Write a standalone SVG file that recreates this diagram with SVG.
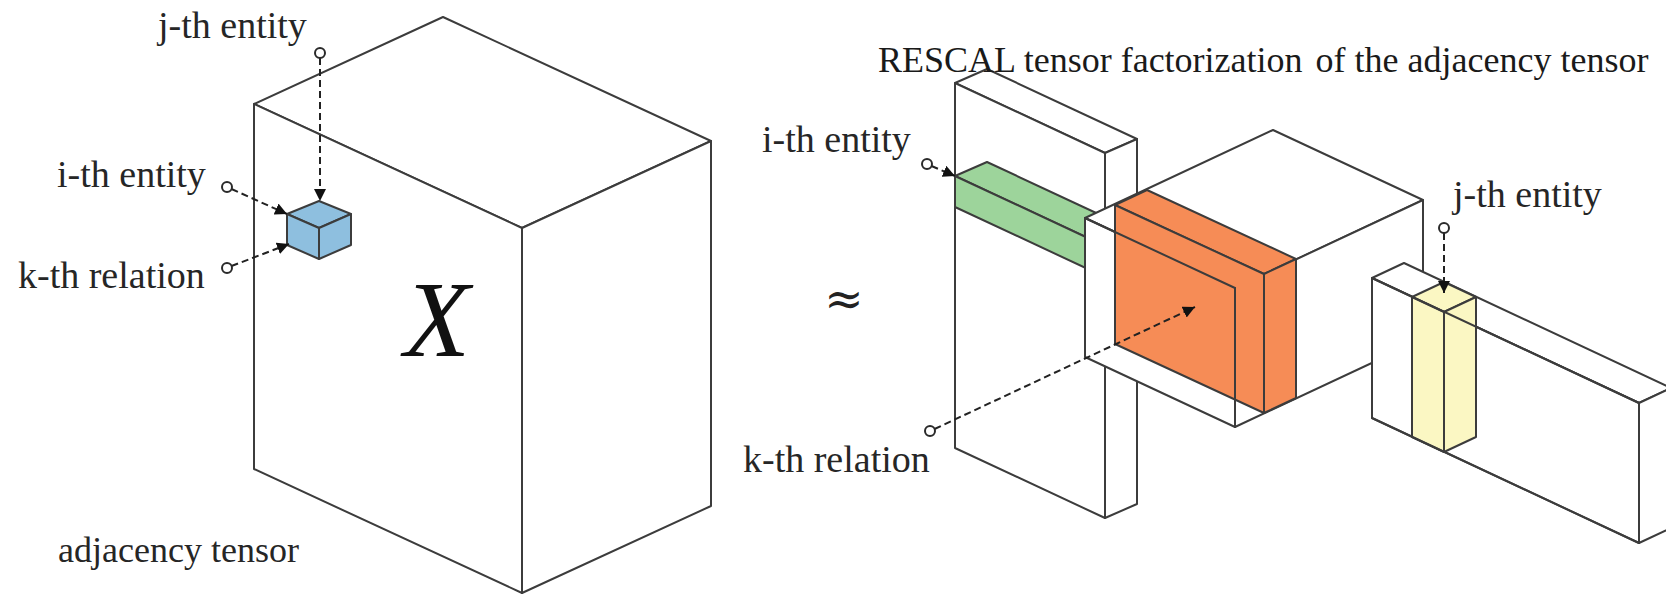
<svg xmlns="http://www.w3.org/2000/svg" width="1666" height="594" viewBox="0 0 1666 594">
  <defs>
    <style>
      .edge { fill: #ffffff; stroke: #3c3c3c; stroke-width: 2; stroke-linejoin: round; }
      .line { fill: none; stroke: #3c3c3c; stroke-width: 2; stroke-linecap: round; }
      .blue { fill: #8ebfdf; stroke: #3c3c3c; stroke-width: 2; stroke-linejoin: round; }
      .green { fill: #9dd49b; stroke: #3c3c3c; stroke-width: 2; stroke-linejoin: round; }
      .orange { fill: #f68c56; stroke: #3c3c3c; stroke-width: 2; stroke-linejoin: round; }
      .yellow { fill: #fbf7c3; stroke: #3c3c3c; stroke-width: 2; stroke-linejoin: round; }
      .dash { fill: none; stroke: #222222; stroke-width: 2; stroke-dasharray: 7 4; }
      .port { fill: #ffffff; stroke: #2a2a2a; stroke-width: 2; }
      text { font-family: "Liberation Serif", "Times New Roman", serif; }
      .lbl { font-size: 38px; fill: #262626; }
      .lbl-s { font-size: 36px; fill: #262626; }
      .title { font-size: 36px; fill: #1a1a1a; }
    </style>
    <marker id="head" viewBox="0 0 12 12" markerWidth="12" markerHeight="12" markerUnits="userSpaceOnUse" refX="12" refY="6" orient="auto">
      <path d="M0,0 L12,6 L0,12 z" fill="#111111"/>
    </marker>
  </defs>

  <!-- adjacency tensor X -->
  <g id="adjacency-tensor">
    <polygon class="edge" points="254,104 443,17 711,141 522,228"/>
    <polygon class="edge" points="254,104 522,228 522,593 254,469"/>
    <polygon class="edge" points="522,228 711,141 711,506 522,593"/>
    <text x="437" y="356" text-anchor="middle" font-style="italic" font-size="108" fill="#111111">X</text>
  </g>

  <!-- single entry of X -->
  <g id="entry-cell">
    <polygon class="blue" points="319,201 351,214 319,228 287,214"/>
    <polygon class="blue" points="287,214 319,228 319,259 287,245"/>
    <polygon class="blue" points="319,228 351,214 351,245 319,259"/>
  </g>

  <!-- approximation sign -->
  <g id="approx">
    <text x="844" y="315" text-anchor="middle" font-size="47" fill="#222222" style="font-family: 'DejaVu Serif', 'Liberation Serif', serif">≈</text>
  </g>

  <!-- factor matrix A with the i-th row -->
  <g id="factor-a">
    <polygon class="edge" points="955,83 987,69 1137,139 1105,153"/>
    <polygon class="edge" points="955,83 1105,153 1105,518 955,448"/>
    <polygon class="edge" points="1105,153 1137,139 1137,504 1105,518"/>
    <polygon class="green" points="955,176 987,162 1137,232 1105,246"/>
    <polygon class="green" points="955,176 1105,246 1105,277 955,207"/>
  </g>

  <!-- core tensor R with the k-th slice -->
  <g id="core-tensor">
    <polygon class="edge" points="1085,218 1273,130 1423,200 1235,288"/>
    <polygon class="edge" points="1085,218 1235,288 1235,427 1085,357"/>
    <polygon class="edge" points="1235,288 1423,200 1423,339 1235,427"/>
    <polygon class="orange" points="1115,205 1147,190 1296,259 1264,274"/>
    <polygon class="orange" points="1115,205 1264,274 1264,413 1115,344"/>
    <polygon class="orange" points="1264,274 1296,259 1296,398 1264,413"/>
    <line class="line" x1="1085" y1="218" x2="1235" y2="288"/>
    <line class="line" x1="1235" y1="288" x2="1235" y2="427"/>
  </g>

  <!-- transposed factor with the j-th column -->
  <g id="factor-at">
    <polygon class="edge" points="1372,278 1404,263 1671,388 1639,403"/>
    <polygon class="edge" points="1372,278 1639,403 1639,543 1372,418"/>
    <polygon class="edge" points="1639,403 1671,388 1671,528 1639,543"/>
    <polygon class="yellow" points="1412,297 1444,282 1476,297 1444,312"/>
    <polygon class="yellow" points="1412,297 1444,312 1444,452 1412,437"/>
    <polygon class="yellow" points="1444,312 1476,297 1476,437 1444,452"/>
    <line class="line" x1="1372" y1="278" x2="1639" y2="403"/>
    <line class="line" x1="1372" y1="418" x2="1639" y2="543"/>
  </g>

  <!-- pointers from labels -->
  <g id="connectors">
    <line class="dash" x1="320" y1="58" x2="320" y2="201" marker-end="url(#head)"/>
    <circle class="port" cx="320" cy="53" r="5"/>
    <line class="dash" x1="231.5" y1="189" x2="287" y2="214" marker-end="url(#head)"/>
    <circle class="port" cx="227" cy="187" r="5"/>
    <line class="dash" x1="231.5" y1="266" x2="289" y2="244" marker-end="url(#head)"/>
    <circle class="port" cx="227" cy="268" r="5"/>

    <line class="dash" x1="931.5" y1="166" x2="955" y2="176" marker-end="url(#head)"/>
    <circle class="port" cx="927" cy="164" r="5"/>
    <line class="dash" x1="934.5" y1="429" x2="1195" y2="307" marker-end="url(#head)"/>
    <circle class="port" cx="930" cy="431" r="5"/>
    <line class="dash" x1="1444" y1="233" x2="1444" y2="293" marker-end="url(#head)"/>
    <circle class="port" cx="1444" cy="228" r="5"/>
  </g>

  <!-- captions -->
  <g id="labels">
    <text class="lbl" x="158" y="38">j-th entity</text>
    <text class="lbl" x="57" y="187">i-th entity</text>
    <text class="lbl" x="18" y="288">k-th relation</text>
    <text class="lbl-s" x="58" y="562">adjacency tensor</text>
    <text class="lbl" x="762" y="152">i-th entity</text>
    <text class="lbl" x="743" y="472">k-th relation</text>
    <text class="lbl" x="1453" y="207">j-th entity</text>
    <text class="title" x="878" y="72">RESCAL tensor factorization<tspan dx="4"> of the adjacency tensor</tspan></text>
  </g>
</svg>
